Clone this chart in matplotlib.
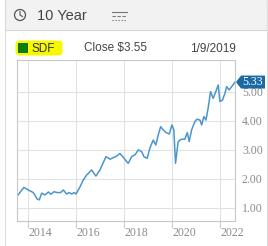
import matplotlib
matplotlib.use("Agg")
import matplotlib.pyplot as plt
from matplotlib.patches import Rectangle, Circle, FancyBboxPatch, Polygon
from matplotlib.transforms import Affine2D

# 데이터
years = [2013.53, 2013.83, 2014.01, 2014.22, 2014.39, 2014.47, 2014.57, 2014.71,
         2014.85, 2014.95, 2015.08, 2015.22, 2015.36, 2015.47, 2015.61, 2015.72,
         2015.82, 2015.92, 2016.00, 2016.17, 2016.30, 2016.45, 2016.65, 2016.83,
         2017.00, 2017.25, 2017.42, 2017.70, 2017.83, 2017.97, 2018.11, 2018.18,
         2018.32, 2018.46, 2018.60, 2018.74, 2018.83, 2018.97, 2019.08, 2019.22,
         2019.33, 2019.43, 2019.53, 2019.64, 2019.75, 2019.89, 2020.00, 2020.08,
         2020.15, 2020.26, 2020.40, 2020.54, 2020.64, 2020.72, 2020.82, 2020.96,
         2021.05, 2021.17, 2021.24, 2021.33, 2021.42, 2021.51, 2021.61, 2021.72,
         2021.83, 2021.93, 2022.00, 2022.11, 2022.21, 2022.28, 2022.39, 2022.49,
         2022.63]
prices = [1.38, 1.70, 1.61, 1.52, 1.29, 1.27, 1.50, 1.44,
          1.54, 1.46, 1.55, 1.52, 1.52, 1.61, 1.47, 1.52,
          1.47, 1.52, 1.47, 1.72, 1.95, 2.13, 2.30, 2.09,
          2.30, 2.76, 2.67, 2.78, 2.87, 2.74, 2.59, 2.53,
          2.76, 2.82, 2.99, 2.93, 2.76, 2.70, 3.05, 3.33,
          3.16, 3.51, 3.79, 3.68, 3.59, 3.54, 3.85, 3.68,
          2.53, 3.28, 3.36, 3.36, 3.59, 3.28, 3.68, 3.97,
          4.05, 4.02, 3.85, 4.14, 4.02, 4.43, 5.00, 4.77,
          5.00, 5.23, 4.66, 4.71, 4.94, 5.17, 5.06, 5.17,
          5.33]
x_ticks = [2014, 2016, 2018, 2020, 2022]
y_ticks = [1, 2, 3, 4, 5]

W, H = 268, 246
fig = plt.figure(figsize=(W / 100, H / 100), dpi=100)
fig.patch.set_facecolor("white")

# 배경 (픽셀 좌표)
bg = fig.add_axes([0, 0, 1, 1])
bg.set_xlim(0, W)
bg.set_ylim(H, 0)
bg.axis("off")
bg.add_patch(Rectangle((4.5, -1), 262, 31, fc="#f2f2f2", ec="#d6d6d6", lw=0.8))
bg.plot([4.5, 4.5], [0, H], color="#dcdcdc", lw=0.8)
bg.plot([266.5, 266.5], [0, H], color="#dcdcdc", lw=0.8)

# 시계 아이콘
bg.add_patch(Circle((20, 15), 5.5, fc="none", ec="#555555", lw=0.9))
bg.plot([20, 20, 22.5], [11.5, 15, 16.5], color="#555555", lw=0.8)
bg.text(37, 15.5, "10 Year", fontsize=10.5, color="#444444", va="center",
        family="Liberation Sans")

# 필터 아이콘
bg.plot([112, 127], [11.5, 11.5], color="#777777", lw=0.8)
bg.plot([112, 127], [15.5, 15.5], color="#777777", lw=0.8, ls=(0, (3, 1.5)))
bg.plot([112, 127], [19.5, 19.5], color="#777777", lw=0.8, ls=(0, (1.2, 1.5)))

# 범례
bg.add_patch(FancyBboxPatch((16, 41), 46, 14, boxstyle="round,pad=0.5,rounding_size=4",
                            fc="#f7f700", ec="none"))
bg.add_patch(Rectangle((18, 43), 10, 10, fc="#0a7a14", ec="none"))
bg.text(32, 48.5, "SDF", fontsize=8.5, color="#333333", va="center", family="Liberation Sans")
bg.text(84, 48.5, "Close $3.55", fontsize=8.5, color="#444444", va="center",
        family="Liberation Sans")
bg.text(190, 48.5, "1/9/2019", fontsize=8.5, color="#444444", va="center",
        family="Liberation Sans")

# 차트
ax = fig.add_axes([17 / W, 1 - 221 / H, (235 - 17) / W, (221 - 60) / H])
ax.set_facecolor("none")
ax.plot(years, prices, color="#4a96cc", lw=1.1)
ax.set_xlim(2013.54, 2022.63)
ax.set_ylim(0.54, 6.09)

ax.set_xticks(x_ticks)
ax.set_xticklabels([])
ax.set_xticks([y + 0.5 for y in x_ticks], minor=True)
ax.set_xticklabels([str(y) for y in x_ticks], minor=True)
ax.tick_params(axis="x", which="major", length=5, color="#cccccc", direction="out")
ax.tick_params(axis="x", which="minor", length=0, pad=4, labelsize=8.5, labelcolor="#8a8a8a")

ax.yaxis.tick_right()
ax.set_yticks(y_ticks)
ax.set_yticklabels([f"{v:.2f}" for v in y_ticks])
ax.tick_params(axis="y", length=0, pad=5, labelsize=8.5, labelcolor="#8a8a8a")
for lab in ax.get_xticklabels(minor=True) + ax.get_yticklabels():
    lab.set_family("Liberation Serif")

ax.grid(True, which="major", color="#e2e2e2", lw=0.8)
for s in ax.spines.values():
    s.set_color("#c8c8c8")
    s.set_linewidth(0.8)

# 마지막 값 표시 (화살표 모양 상자)
px, py = ax.transData.transform((years[-1], prices[-1]))
shape = Polygon([(1, 0), (6, 6.5), (30, 6.5), (30, -6.5), (6, -6.5)],
                closed=True, fc="#1b6aa5", ec="none",
                transform=Affine2D().translate(px, py), clip_on=False, zorder=5)
ax.add_patch(shape)
ax.annotate(f"{prices[-1]:.2f}", xy=(years[-1], prices[-1]), xytext=(18, 0),
            textcoords="offset pixels", ha="center", va="center", fontsize=8.5,
            color="white", family="Liberation Serif", annotation_clip=False, zorder=6)

fig.savefig("out.png", dpi=100)
